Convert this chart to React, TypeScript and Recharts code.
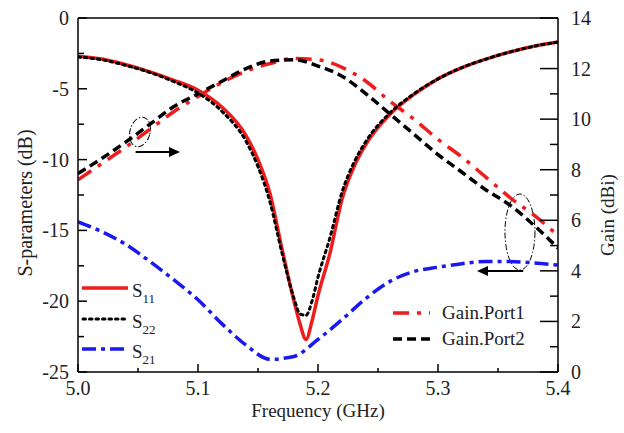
import React from "react";
import { LineChart, Line, XAxis, YAxis, ReferenceLine, ReferenceArea } from "recharts";

// reflection curves, sampled densely around the resonance
const freqRes = [
  5.0, 5.02, 5.04, 5.06, 5.08, 5.1, 5.12, 5.14, 5.15, 5.16, 5.17, 5.18, 5.185, 5.19,
  5.195, 5.2, 5.21, 5.22, 5.23, 5.24, 5.26, 5.28, 5.3, 5.32, 5.34, 5.36, 5.38, 5.4,
];
const s11 = [
  -2.7, -2.9, -3.3, -3.8, -4.4, -5.1, -6.3, -8.3, -10.0, -12.4, -16.3, -20.0, -21.6, -22.7,
  -21.4, -19.6, -16.6, -12.8, -10.5, -8.9, -6.8, -5.4, -4.3, -3.5, -2.9, -2.4, -2.0, -1.7,
];
const s22 = [
  -2.75, -2.95, -3.35, -3.85, -4.5, -5.3, -6.6, -8.7, -10.5, -13.0, -16.6, -19.8, -20.9, -21.0,
  -20.0, -18.3, -15.5, -12.3, -10.2, -8.7, -6.7, -5.35, -4.3, -3.5, -2.9, -2.4, -2.0, -1.7,
];

// transmission and gain curves
const freqWide = [
  5.0, 5.02, 5.04, 5.06, 5.08, 5.1, 5.12, 5.14, 5.16, 5.18, 5.2, 5.22, 5.24, 5.26, 5.28, 5.3,
  5.32, 5.34, 5.36, 5.38, 5.4,
];
const s21 = [
  -14.4, -15.1, -16.0, -17.2, -18.5, -19.9, -21.6, -23.1, -24.1, -23.9, -22.7, -21.3, -19.8,
  -18.6, -17.9, -17.6, -17.35, -17.2, -17.2, -17.3, -17.45,
];
const gainPort1 = [
  7.6, 8.25, 8.9, 9.6, 10.3, 10.9, 11.45, 11.9, 12.2, 12.4, 12.35, 12.05, 11.5, 10.7, 10.0, 9.2,
  8.5, 7.7, 6.9, 6.2, 5.4,
];
const gainPort2 = [
  7.85, 8.45, 9.1, 9.8, 10.5, 11.0, 11.5, 12.0, 12.3, 12.35, 12.1, 11.7, 11.0, 10.2, 9.4, 8.6,
  7.9, 7.2, 6.6, 5.8, 4.9,
];

const xTicks = [5.0, 5.05, 5.1, 5.15, 5.2, 5.25, 5.3, 5.35, 5.4];
const leftTicks = [-25, -22.5, -20, -17.5, -15, -12.5, -10, -7.5, -5, -2.5, 0];
const rightTicks = [0, 1, 2, 3, 4, 5, 6, 7, 8, 9, 10, 11, 12, 13, 14];

const FONT = '"Liberation Serif", "Times New Roman", serif';
const RED = "#ee1c1c";
const BLUE = "#1a1aee";

const resData = freqRes.map((f, i) => ({ f, s11: s11[i], s22: s22[i] }));
const wideData = freqWide.map((f, i) => ({ f, s21: s21[i], g1: gainPort1[i], g2: gainPort2[i] }));

function XTick(props: any) {
  const { x, y, payload } = props;
  const v = payload.value as number;
  const major = Math.abs(v * 10 - Math.round(v * 10)) < 1e-6;
  return (
    <g>
      <line x1={x} y1={y} x2={x} y2={y - (major ? 8 : 4)} stroke="#000" strokeWidth={1.5} />
      {major && (
        <text x={x} y={y + 23} textAnchor="middle" fontFamily={FONT} fontSize={20} fill="#222">
          {v.toFixed(1)}
        </text>
      )}
    </g>
  );
}

function LeftTick(props: any) {
  const { x, y, payload } = props;
  const v = payload.value as number;
  const major = v % 5 === 0;
  return (
    <g>
      <line x1={x} y1={y} x2={x + (major ? 9 : 6)} y2={y} stroke="#000" strokeWidth={1.5} />
      {major && (
        <text x={x - 9} y={y} dy="0.35em" textAnchor="end" fontFamily={FONT} fontSize={20} fill="#222">
          {v}
        </text>
      )}
    </g>
  );
}

function RightTick(props: any) {
  const { x, y, payload } = props;
  const v = payload.value as number;
  const major = v % 2 === 0;
  return (
    <g>
      <line x1={x} y1={y} x2={x - (major ? 18 : 8)} y2={y} stroke="#000" strokeWidth={1.5} />
      {major && (
        <text x={x + 13} y={y} dy="0.35em" textAnchor="start" fontFamily={FONT} fontSize={20} fill="#222">
          {v}
        </text>
      )}
    </g>
  );
}

function Ellipse(props: any) {
  const { x, y, width, height, tilt = 0 } = props;
  const cx = x + width / 2;
  const cy = y + height / 2;
  return (
    <ellipse
      cx={cx}
      cy={cy}
      rx={width / 2}
      ry={height / 2}
      fill="none"
      stroke="#000"
      strokeWidth={1}
      strokeDasharray="6 2 1.5 2"
      transform={`rotate(${tilt} ${cx} ${cy})`}
    />
  );
}

function Arrow(props: any) {
  const { x1, y1, x2, y2 } = props;
  const dir = x2 > x1 ? 1 : -1;
  const tip = x2;
  const base = x2 - dir * 11;
  return (
    <g>
      <line x1={x1} y1={y1} x2={base} y2={y2} stroke="#000" strokeWidth={2} />
      <polygon points={`${tip},${y2} ${base},${y2 - 5} ${base},${y2 + 5}`} fill="#000" />
    </g>
  );
}

function Legends() {
  const txt = { fontFamily: FONT, fontSize: 19, fill: "#222" } as const;
  return (
    <svg
      width={624}
      height={433}
      style={{ position: "absolute", left: 0, top: 0, pointerEvents: "none" }}
    >
      <line x1={82} y1={288} x2={128} y2={288} stroke={RED} strokeWidth={3.5} />
      <text x={132} y={297} {...txt}>
        S<tspan fontSize={13} dy={6}>11</tspan>
      </text>
      <line x1={83} y1={319} x2={128} y2={319} stroke="#000" strokeWidth={3} strokeDasharray="2.5 4" strokeLinecap="round" />
      <text x={132} y={328} {...txt}>
        S<tspan fontSize={13} dy={6}>22</tspan>
      </text>
      <line x1={82} y1={349} x2={128} y2={349} stroke={BLUE} strokeWidth={3.5} strokeDasharray="14 5 4 5" />
      <text x={132} y={358} {...txt}>
        S<tspan fontSize={13} dy={6}>21</tspan>
      </text>
      <line x1={393} y1={313} x2={430} y2={313} stroke={RED} strokeWidth={3.5} strokeDasharray="16 8 4 8" />
      <text x={442} y={319} {...txt}>Gain.Port1</text>
      <line x1={393} y1={339} x2={430} y2={339} stroke="#000" strokeWidth={3.5} strokeDasharray="9 5" />
      <text x={442} y={345} {...txt}>Gain.Port2</text>
    </svg>
  );
}

export default function App() {
  return (
    <div style={{ position: "absolute", left: 0, top: 0, width: 624, height: 433, background: "#fff" }}>
      <LineChart width={624} height={433} margin={{ top: 18, right: 0, bottom: 0, left: 0 }}>
        <XAxis
          dataKey="f"
          type="number"
          domain={[5, 5.4]}
          allowDataOverflow
          ticks={xTicks}
          interval={0}
          tickSize={0}
          tickMargin={0}
          tick={(p: any) => <XTick {...p} />}
          height={61}
          stroke="#000"
          strokeWidth={1.5}
          label={{
            content: (p: any) => {
              const vb = p.viewBox;
              return (
                <text x={vb.x + vb.width / 2} y={vb.y + 45} textAnchor="middle" fontFamily={FONT} fontSize={19} fill="#222">
                  Frequency (GHz)
                </text>
              );
            },
          }}
        />
        <YAxis
          yAxisId="left"
          type="number"
          domain={[-25, 0]}
          ticks={leftTicks}
          interval={0}
          tickSize={0}
          tickMargin={0}
          tick={(p: any) => <LeftTick {...p} />}
          width={78}
          stroke="#000"
          strokeWidth={1.5}
          label={{
            content: (p: any) => {
              const vb = p.viewBox;
              const cx = vb.x + 25;
              const cy = vb.y + vb.height / 2 + 8;
              return (
                <text x={cx} y={cy} textAnchor="middle" dominantBaseline="central" transform={`rotate(-90 ${cx} ${cy})`} fontFamily={FONT} fontSize={20} fill="#222">
                  S-parameters (dB)
                </text>
              );
            },
          }}
        />
        <YAxis
          yAxisId="right"
          orientation="right"
          type="number"
          domain={[0, 14]}
          ticks={rightTicks}
          interval={0}
          tickSize={0}
          tickMargin={0}
          tick={(p: any) => <RightTick {...p} />}
          width={66}
          stroke="#000"
          strokeWidth={1.5}
          label={{
            content: (p: any) => {
              const vb = p.viewBox;
              const cx = vb.x + 49;
              const cy = vb.y + vb.height / 2 + 20;
              return (
                <text x={cx} y={cy} textAnchor="middle" dominantBaseline="central" transform={`rotate(-90 ${cx} ${cy})`} fontFamily={FONT} fontSize={19} fill="#222">
                  Gain (dBi)
                </text>
              );
            },
          }}
        />
        <ReferenceLine yAxisId="left" y={0} stroke="#000" strokeWidth={1.5} />

        <Line data={wideData} yAxisId="right" dataKey="g1" type="monotone" stroke={RED} strokeWidth={3.5} strokeDasharray="16 8 4 8" dot={false} isAnimationActive={false} />
        <Line data={wideData} yAxisId="right" dataKey="g2" type="monotone" stroke="#000" strokeWidth={3.5} strokeDasharray="9 5" dot={false} isAnimationActive={false} />
        <Line data={wideData} yAxisId="left" dataKey="s21" type="monotone" stroke={BLUE} strokeWidth={3.5} strokeDasharray="14 5 4 5" dot={false} isAnimationActive={false} />
        <Line data={resData} yAxisId="left" dataKey="s11" type="monotone" stroke={RED} strokeWidth={3.5} dot={false} isAnimationActive={false} />
        <Line data={resData} yAxisId="left" dataKey="s22" type="monotone" stroke="#000" strokeWidth={3} strokeDasharray="2.5 4" strokeLinecap="round" dot={false} isAnimationActive={false} />

        <ReferenceArea yAxisId="left" x1={5.0433} x2={5.06} y1={-9.11} y2={-6.99} shape={(p: any) => <Ellipse {...p} tilt={15} />} />
        <ReferenceLine yAxisId="left" segment={[{ x: 5.048, y: -9.46 }, { x: 5.085, y: -9.46 }]} shape={(p: any) => <Arrow {...p} />} />
        <ReferenceArea yAxisId="left" x1={5.3558} x2={5.3808} y1={-17.8} y2={-12.43} shape={(p: any) => <Ellipse {...p} />} />
        <ReferenceLine yAxisId="left" segment={[{ x: 5.371, y: -17.87 }, { x: 5.3325, y: -17.87 }]} shape={(p: any) => <Arrow {...p} />} />
      </LineChart>
      <Legends />
    </div>
  );
}
